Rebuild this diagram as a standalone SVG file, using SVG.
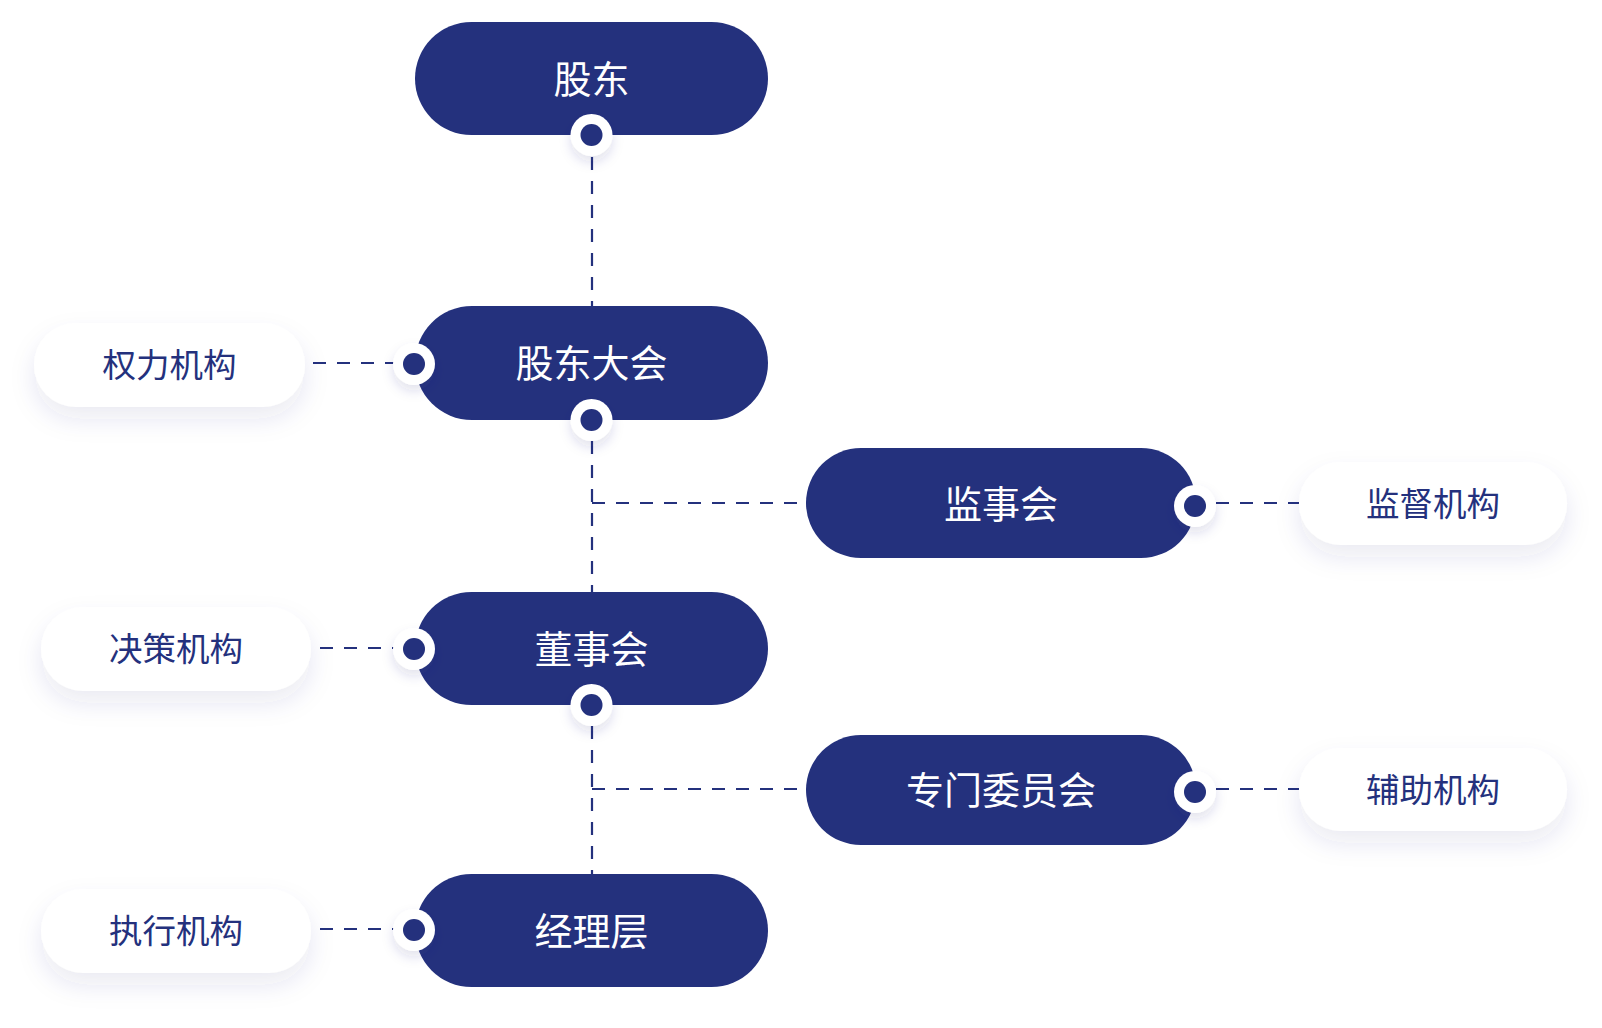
<svg xmlns="http://www.w3.org/2000/svg" width="1602" height="1028" viewBox="0 0 1602 1028">
<defs>
<filter id="sh" x="-30%" y="-40%" width="160%" height="200%">
<feDropShadow dx="0" dy="12" stdDeviation="12" flood-color="#2a3585" flood-opacity="0.10"/>
</filter>
<filter id="dsh" x="-100%" y="-100%" width="300%" height="300%">
<feDropShadow dx="0" dy="6" stdDeviation="6" flood-color="#2a3585" flood-opacity="0.14"/>
</filter>
<style>
.dark{fill:#24317d}
.light{fill:#ffffff}
.tw{fill:#ffffff;font-family:"Noto Sans CJK SC","Noto Sans",sans-serif;font-size:38px;text-anchor:middle;dominant-baseline:central}
.tb{fill:#24317d;font-family:"Noto Sans CJK SC","Noto Sans",sans-serif;font-size:33.5px;text-anchor:middle;dominant-baseline:central}
.ln{fill:none;stroke:#24317d;stroke-width:2.2;stroke-dasharray:13 11}
.ring{fill:#ffffff}
.core{fill:#24317d}
</style>
</defs>
<rect width="1602" height="1028" fill="#ffffff"/>
<g id="connectors">
<path class="ln" d="M592 157 V306"/>
<path class="ln" d="M592 441 V592"/>
<path class="ln" d="M592 503 H806"/>
<path class="ln" d="M592 726 V874"/>
<path class="ln" d="M592 789 H806"/>
<path class="ln" d="M313 363 H404"/>
<path class="ln" d="M320 648 H404"/>
<path class="ln" d="M320 929 H404"/>
<path class="ln" d="M1216 503 H1299"/>
<path class="ln" d="M1216 789 H1299"/>
</g>
<g id="n-quanli"><rect class="light" filter="url(#sh)" x="34" y="323" width="271" height="84" rx="42"/><text class="tb" x="169.5" y="362">权力机构</text></g>
<g id="n-juece"><rect class="light" filter="url(#sh)" x="41" y="607" width="270" height="84" rx="42"/><text class="tb" x="176" y="646">决策机构</text></g>
<g id="n-zhixing"><rect class="light" filter="url(#sh)" x="41" y="889" width="270" height="84" rx="42"/><text class="tb" x="176" y="928">执行机构</text></g>
<g id="n-jiandu"><rect class="light" filter="url(#sh)" x="1299" y="462" width="268" height="83" rx="41.5"/><text class="tb" x="1433" y="501">监督机构</text></g>
<g id="n-fuzhu"><rect class="light" filter="url(#sh)" x="1299" y="748" width="268" height="83" rx="41.5"/><text class="tb" x="1433" y="787">辅助机构</text></g>
<g id="n-gudong"><rect class="dark" x="415" y="22" width="353" height="113" rx="56.5"/><text class="tw" x="591.5" y="76">股东</text></g>
<g id="n-gudongdahui"><rect class="dark" x="415" y="306" width="353" height="114" rx="57"/><text class="tw" x="591.5" y="360">股东大会</text></g>
<g id="n-jianshihui"><rect class="dark" x="806" y="448" width="390" height="110" rx="55"/><text class="tw" x="1001" y="501">监事会</text></g>
<g id="n-dongshihui"><rect class="dark" x="415" y="592" width="353" height="113" rx="56.5"/><text class="tw" x="591.5" y="646">董事会</text></g>
<g id="n-zhuanmen"><rect class="dark" x="806" y="735" width="390" height="110" rx="55"/><text class="tw" x="1001" y="787">专门委员会</text></g>
<g id="n-jingli"><rect class="dark" x="415" y="874" width="353" height="113" rx="56.5"/><text class="tw" x="591.5" y="928">经理层</text></g>
<g id="dots">
<circle class="ring" filter="url(#dsh)" cx="591.5" cy="135" r="21"/><circle class="core" cx="591.5" cy="135" r="11"/>
<circle class="ring" filter="url(#dsh)" cx="591.5" cy="420" r="21"/><circle class="core" cx="591.5" cy="420" r="11"/>
<circle class="ring" filter="url(#dsh)" cx="591.5" cy="705" r="21"/><circle class="core" cx="591.5" cy="705" r="11"/>
<circle class="ring" filter="url(#dsh)" cx="414" cy="364" r="21"/><circle class="core" cx="414" cy="364" r="11"/>
<circle class="ring" filter="url(#dsh)" cx="414" cy="649" r="21"/><circle class="core" cx="414" cy="649" r="11"/>
<circle class="ring" filter="url(#dsh)" cx="414" cy="930" r="21"/><circle class="core" cx="414" cy="930" r="11"/>
<circle class="ring" filter="url(#dsh)" cx="1195" cy="506" r="21"/><circle class="core" cx="1195" cy="506" r="11"/>
<circle class="ring" filter="url(#dsh)" cx="1195" cy="792" r="21"/><circle class="core" cx="1195" cy="792" r="11"/>
</g>
</svg>
